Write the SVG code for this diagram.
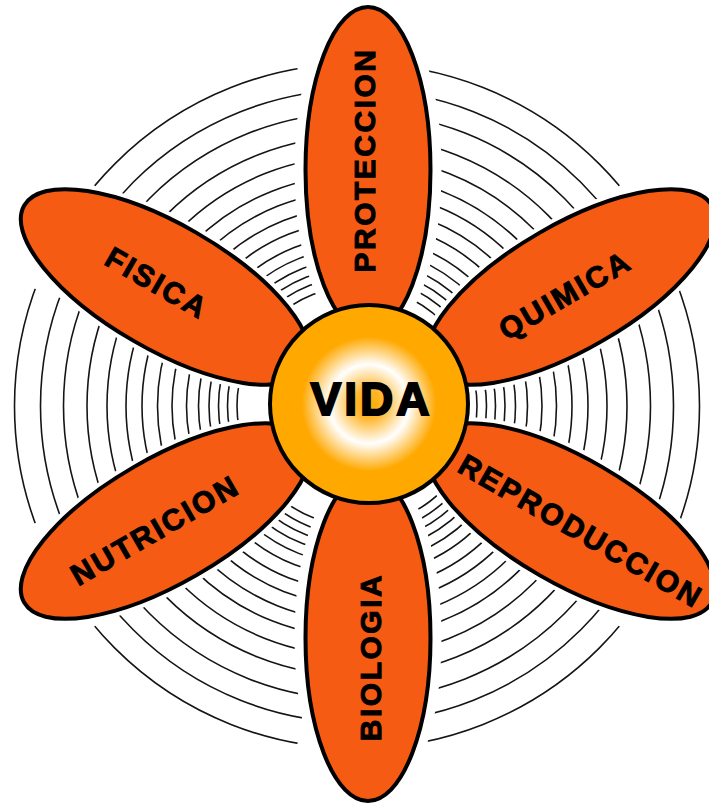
<svg xmlns="http://www.w3.org/2000/svg" xmlns:xlink="http://www.w3.org/1999/xlink" width="709" height="810" viewBox="0 0 709 810">
  <style>
    .ring { fill: none; stroke: #151515; stroke-width: 1.6; }
    .halo { fill: #ffffff; stroke: #ffffff; stroke-width: 12; }
    .halo-wide { fill: #ffffff; stroke: #ffffff; stroke-width: 22; }
    .petal { fill: #F55B12; stroke: #000000; stroke-width: 4; }
    .label { font-family: "Liberation Sans", Arial, sans-serif; font-weight: bold; font-size: 30px; letter-spacing: 2.5px; fill: #000000; stroke: #000000; stroke-width: 1; text-anchor: middle; }
    .center-disc { fill: url(#vidaGrad); stroke: #000000; stroke-width: 4; }
    .center-label { font-family: "Liberation Sans", Arial, sans-serif; font-weight: bold; font-size: 46px; letter-spacing: 3px; fill: #000000; stroke: #000000; stroke-width: 2; text-anchor: middle; }
  </style>
  <defs>
    <ellipse id="petalShape" cx="0" cy="-234" rx="62.5" ry="163"/>
    <radialGradient id="vidaGrad" cx="50%" cy="50%" r="50%">
      <stop offset="0" stop-color="#FFAA00"/>
      <stop offset="0.15" stop-color="#FFB830"/>
      <stop offset="0.4" stop-color="#FFFFFF"/>
      <stop offset="0.68" stop-color="#FFA800"/>
      <stop offset="1" stop-color="#FFA800"/>
    </radialGradient>
    <clipPath id="sectors">
      <polygon points="357,406 845.6,228.1 845.6,583.9"/>
      <polygon points="357,406 755.3,740.3 447.3,918.1"/>
      <polygon points="357,406 266.7,918.1 -41.3,740.3"/>
      <polygon points="357,406 -131.6,583.9 -131.6,228.1"/>
      <polygon points="357,406 -41.3,71.7 266.7,-106.1"/>
      <polygon points="357,406 447.3,-106.1 755.3,71.7"/>
    </clipPath>
  </defs>

  <rect x="0" y="0" width="709" height="810" fill="#ffffff"/>

  <g id="ripples" clip-path="url(#sectors)">
    <circle class="ring" cx="357" cy="406" r="120"/>
    <circle class="ring" cx="357" cy="406" r="129.5"/>
    <circle class="ring" cx="357" cy="406" r="138.5"/>
    <circle class="ring" cx="357" cy="406" r="148"/>
    <circle class="ring" cx="357" cy="406" r="158.5"/>
    <circle class="ring" cx="357" cy="406" r="170.5"/>
    <circle class="ring" cx="357" cy="406" r="185"/>
    <circle class="ring" cx="357" cy="406" r="199.5"/>
    <circle class="ring" cx="357" cy="406" r="215"/>
    <circle class="ring" cx="357" cy="406" r="231"/>
    <circle class="ring" cx="357" cy="406" r="250"/>
    <circle class="ring" cx="357" cy="406" r="270"/>
    <circle class="ring" cx="357" cy="406" r="293.5"/>
    <circle class="ring" cx="357" cy="406" r="316.5"/>
    <circle class="ring" cx="357" cy="406" r="342.5"/>
  </g>

  <g id="petal-halos">
    <use xlink:href="#petalShape" class="halo-wide" transform="translate(368,404) rotate(0)"/>
    <use xlink:href="#petalShape" class="halo" transform="translate(368,404) rotate(60)"/>
    <use xlink:href="#petalShape" class="halo" transform="translate(368,404) rotate(120)"/>
    <use xlink:href="#petalShape" class="halo-wide" transform="translate(368,404) rotate(180)"/>
    <use xlink:href="#petalShape" class="halo" transform="translate(368,404) rotate(240)"/>
    <use xlink:href="#petalShape" class="halo" transform="translate(368,404) rotate(300)"/>
  </g>

  <g id="petal-proteccion">
    <use xlink:href="#petalShape" class="petal" transform="translate(368,404) rotate(0)"/>
    <text class="label" transform="translate(364.5,160) rotate(-90)" y="10.5">PROTECCION</text>
  </g>
  <g id="petal-quimica">
    <use xlink:href="#petalShape" class="petal" transform="translate(368,404) rotate(60)"/>
    <text class="label" transform="translate(565,295) rotate(-30)" y="10.5">QUIMICA</text>
  </g>
  <g id="petal-reproduccion">
    <use xlink:href="#petalShape" class="petal" transform="translate(368,404) rotate(120)"/>
    <text class="label" transform="translate(581,531) rotate(30)" y="10.5">REPRODUCCION</text>
  </g>
  <g id="petal-biologia">
    <use xlink:href="#petalShape" class="petal" transform="translate(368,404) rotate(180)"/>
    <text class="label" transform="translate(370,657) rotate(-90)" y="10.5">BIOLOGIA</text>
  </g>
  <g id="petal-nutricion">
    <use xlink:href="#petalShape" class="petal" transform="translate(368,404) rotate(240)"/>
    <text class="label" transform="translate(155,530) rotate(-30)" y="10.5">NUTRICION</text>
  </g>
  <g id="petal-fisica">
    <use xlink:href="#petalShape" class="petal" transform="translate(368,404) rotate(300)"/>
    <text class="label" transform="translate(157,283) rotate(30)" y="10.5">FISICA</text>
  </g>

  <g id="vida">
    <circle class="center-disc" cx="369" cy="404" r="99"/>
    <text class="center-label" x="371.5" y="415">VIDA</text>
  </g>
</svg>
